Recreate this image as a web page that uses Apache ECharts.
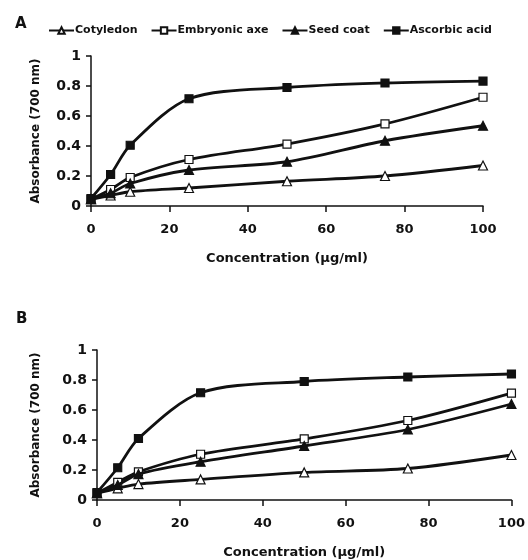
<!DOCTYPE html>
<html>
<head>
<meta charset="utf-8">
<script src="https://cdn.jsdelivr.net/npm/echarts@6/dist/echarts.min.js"></script>
<style>
  html, body { margin: 0; padding: 0; background: #fff; }
  #chart { width: 528px; height: 560px; }
</style>
</head>
<body>
<div id="chart"></div>
<script>
// concentration (µg/ml)
var conc = [0, 5, 10, 25, 50, 75, 100];
var seriesNames = ['Cotyledon', 'Embryonic axe', 'Seed coat', 'Ascorbic acid'];
var xTicks = [0, 20, 40, 60, 80, 100];
var yTicks = [0, 0.2, 0.4, 0.6, 0.8, 1];

// panel A
var cotyledonA = [0.045, 0.07, 0.095, 0.12, 0.165, 0.2, 0.27];
var embryoA    = [0.045, 0.11, 0.19, 0.31, 0.413, 0.547, 0.725];
var seedA      = [0.045, 0.085, 0.15, 0.24, 0.295, 0.435, 0.535];
var ascorbicA  = [0.05, 0.21, 0.405, 0.715, 0.79, 0.82, 0.833];

// panel B
var cotyledonB = [0.045, 0.078, 0.106, 0.137, 0.184, 0.21, 0.30];
var embryoB    = [0.045, 0.118, 0.188, 0.305, 0.407, 0.53, 0.713];
var seedB      = [0.045, 0.1, 0.173, 0.255, 0.36, 0.47, 0.64];
var ascorbicB  = [0.05, 0.215, 0.41, 0.715, 0.79, 0.82, 0.84];

var FONT = 'DejaVu Sans';
var INK = '#111';

function pairs(vals) {
  return conc.map(function (c, i) { return [c, vals[i]]; });
}

// marker look per series: [symbol, fill]
var looks = [
  ['triangle', '#fff'],
  ['rect', '#fff'],
  ['triangle', INK],
  ['rect', INK]
];

function makeSeries(vals, idx, panel) {
  var look = looks[idx];
  return {
    name: seriesNames[idx],
    type: 'line',
    xAxisIndex: panel,
    yAxisIndex: panel,
    data: pairs(vals),
    smooth: 0.3,
    symbol: look[0],
    symbolSize: look[0] === 'rect' ? 8 : 9,
    showAllSymbol: true,
    lineStyle: { color: INK, width: 2.8 },
    itemStyle: { color: look[1], borderColor: INK, borderWidth: 1.2 },
    emphasis: { disabled: true },
    z: 2 + idx
  };
}

function xAxis(grid) {
  return {
    type: 'value',
    gridIndex: grid,
    min: 0, max: 100, interval: 20,
    name: 'Concentration (µg/ml)',
    nameLocation: 'middle',
    nameGap: 46,
    nameTextStyle: { fontFamily: FONT, fontWeight: 'bold', fontSize: 13, color: INK },
    axisLine: { lineStyle: { color: INK, width: 1.5 } },
    axisTick: { show: true, length: 6, lineStyle: { color: INK, width: 1.5 } },
    axisLabel: { margin: 17, fontFamily: FONT, fontWeight: 'bold', fontSize: 13, color: INK },
    splitLine: { show: false }
  };
}

function yAxis(grid, gap) {
  return {
    type: 'value',
    gridIndex: grid,
    min: 0, max: 1, interval: 0.2,
    name: 'Absorbance (700 nm)',
    nameLocation: 'middle',
    nameGap: gap,
    nameTextStyle: { fontFamily: FONT, fontWeight: 'bold', fontSize: 12, color: INK },
    axisLine: { show: true, lineStyle: { color: INK, width: 1.5 } },
    axisTick: { show: true, length: 5, lineStyle: { color: INK, width: 1.5 } },
    axisLabel: { margin: 10, fontFamily: FONT, fontWeight: 'bold', fontSize: 14, color: INK },
    splitLine: { show: false }
  };
}

var chart = echarts.init(document.getElementById('chart'));
var option = {
  backgroundColor: '#fff',
  animation: false,
  title: [
    { text: 'A', left: 10, top: 12, textStyle: { fontFamily: FONT, fontWeight: 'bold', fontSize: 15, color: INK } },
    { text: 'B', left: 11, top: 307, textStyle: { fontFamily: FONT, fontWeight: 'bold', fontSize: 15, color: INK } }
  ],
  legend: {
    data: seriesNames,
    left: 43,
    top: 20,
    itemWidth: 25,
    itemHeight: 8,
    itemGap: 13,
    textStyle: { fontFamily: FONT, fontWeight: 'bold', fontSize: 11, color: INK, padding: [0, 0, 0, -4] }
  },
  grid: [
    { left: 91, right: 45, top: 56, height: 150 },
    { left: 97, right: 16, top: 350, height: 151 }
  ],
  xAxis: [xAxis(0), xAxis(1)],
  yAxis: [yAxis(0, 49), yAxis(1, 55)],
  series: [
    makeSeries(cotyledonA, 0, 0),
    makeSeries(embryoA, 1, 0),
    makeSeries(seedA, 2, 0),
    makeSeries(ascorbicA, 3, 0),
    makeSeries(cotyledonB, 0, 1),
    makeSeries(embryoB, 1, 1),
    makeSeries(seedB, 2, 1),
    makeSeries(ascorbicB, 3, 1)
  ]
};
chart.setOption(option);
</script>
</body>
</html>
